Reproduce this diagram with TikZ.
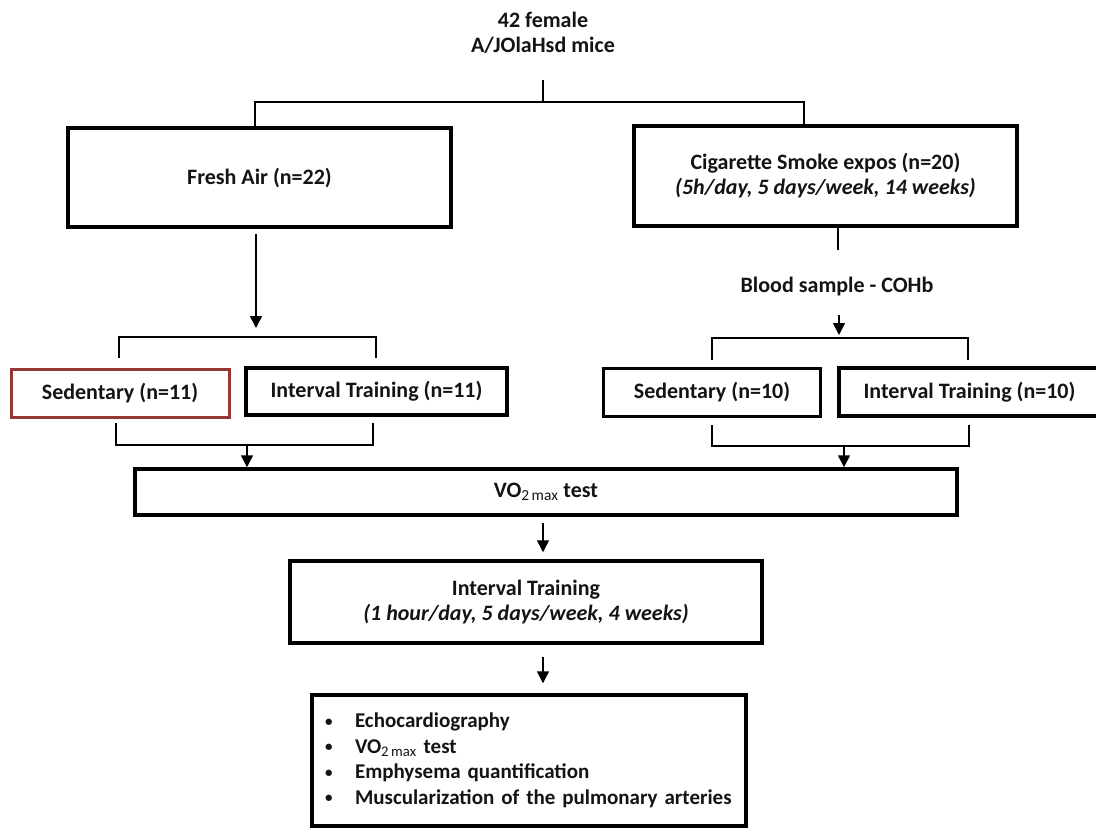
\documentclass[tikz,border=0pt]{standalone}
\usepackage{fontspec}
\setmainfont{Carlito}
\usetikzlibrary{arrows.meta}
\definecolor{boxred}{RGB}{149,55,53}
\definecolor{ink}{RGB}{20,20,20}
\newcommand{\smbul}{\makebox[30pt][l]{\raisebox{1.5pt}{\fontsize{15}{15}\selectfont •}}}
\newcommand{\vomax}{VO\textsubscript{\mdseries 2\hspace{2.5pt}max}}
\begin{document}
\begin{tikzpicture}[x=1pt,y=-1pt,
  every node/.style={font=\fontsize{22}{25}\selectfont\bfseries, text=ink, align=center},
  box/.style={draw=black, line width=3.5pt, rectangle, inner sep=0pt},
  redbox/.style={box, draw=boxred, line width=3pt},
  conn/.style={draw=black, line width=1.5pt},
  arr/.style={draw=black, line width=1.5pt, -{Triangle[length=12pt,width=12pt]}},
]
\useasboundingbox (0,0) rectangle (1096,828);
\clip (0,0) rectangle (1096,828);
\fill[white] (0,0) rectangle (1096,828);

% nodes
\node (title) at (543,33) {42 female\\A/JOlaHsd mice};
\node[box, minimum width=383pt, minimum height=99pt] (fa) at (259.5,177.5) {Fresh Air (n=22)};
\node[box, minimum width=383pt, minimum height=100pt] (cs) at (825.5,176) {Cigarette Smoke expos (n=20)\\\textit{(5h/day, 5 days/week, 14 weeks)}};
\node (blood) at (837,287) {Blood sample - COHb};
\node[redbox, minimum width=218pt, minimum height=48pt] (sed11) at (120,393) {Sedentary (n=11)};
\node[box, minimum width=261pt, minimum height=47pt] (int11) at (376.5,391.5) {Interval Training (n=11)};
\node[box, minimum width=217pt, minimum height=48pt] (sed10) at (712,392.5) {Sedentary (n=10)};
\node[box, minimum width=261pt, minimum height=48pt] (int10) at (969.5,392) {Interval Training (n=10)};
\node[box, minimum width=822pt, minimum height=46pt] (vo2) at (546,492) {\vomax{} test};
\node[box, minimum width=472pt, minimum height=82pt] (it) at (526,602) {Interval Training\\\textit{(1 hour/day, 5 days/week, 4 weeks)}};
\node[box, minimum height=131pt, text width=408pt, inner xsep=13pt, align=left,
      font=\fontsize{21}{25.5}\selectfont\bfseries] (fin) at (529,760.5)
  {\smbul Echocardiography\\
   \smbul \vomax{} test\\
   \smbul Emphysema quantification\\
   \smbul Muscularization of the pulmonary arteries};

% coordinates
\coordinate (t0) at (543,80);
\coordinate (tj) at (543,102);
\coordinate (tl) at (255,102);
\coordinate (tr) at (804,102);
\coordinate (a1) at (256,328);
\coordinate (c1) at (838,250);
\coordinate (c2s) at (839,315);
\coordinate (c2) at (839,335);
\coordinate (ltl) at (119,337);
\coordinate (ltr) at (376,337);
\coordinate (rtl) at (712,338);
\coordinate (rtr) at (968,338);
\coordinate (lbl) at (116,445);
\coordinate (lbr) at (373,445);
\coordinate (lbm) at (247,445);
\coordinate (rbl) at (712,446);
\coordinate (rbr) at (969,446);
\coordinate (rbm) at (844,446);
\coordinate (m1) at (543,0);

% connectors
\draw[conn] (t0) -- (tj);
\draw[conn] (tl |- fa.north) -- (tl) -- (tr) -- (tr |- cs.north);
\draw[arr, shorten <=5pt] (a1 |- fa.south) -- (a1);
\draw[conn] (c1 |- cs.south) -- (c1);
\draw[arr] (c2s) -- (c2);
\draw[conn] ([yshift=-21pt]ltl) -- (ltl) -- (ltr) -- ([yshift=-21pt]ltr);
\draw[conn] ([yshift=-22pt]rtl) -- (rtl) -- (rtr) -- ([yshift=-22pt]rtr);
\draw[conn] ([yshift=22pt]lbl) -- (lbl) -- (lbr) -- ([yshift=22pt]lbr);
\draw[conn] ([yshift=21pt]rbl) -- (rbl) -- (rbr) -- ([yshift=21pt]rbr);
\draw[arr] (lbm) -- (lbm |- vo2.north);
\draw[arr] (rbm) -- (rbm |- vo2.north);
\draw[arr, shorten <=6pt, shorten >=7pt] (m1 |- vo2.south) -- (m1 |- it.north);
\draw[arr, shorten <=12pt, shorten >=10pt] (m1 |- it.south) -- (m1 |- fin.north);
\end{tikzpicture}
\end{document}
